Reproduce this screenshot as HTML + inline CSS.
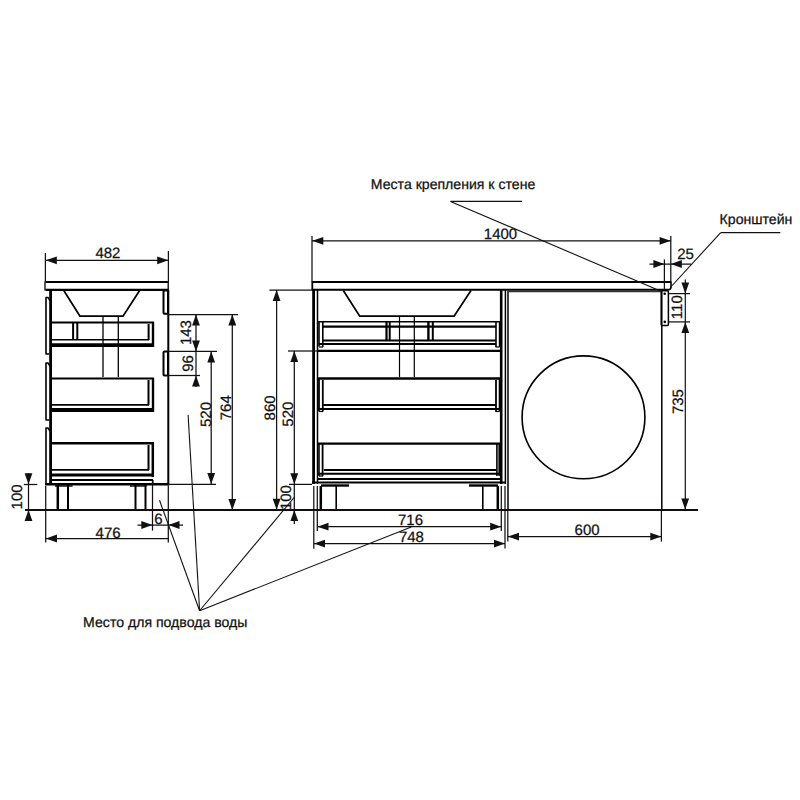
<!DOCTYPE html>
<html><head><meta charset="utf-8"><style>
html,body{margin:0;padding:0;background:#fff;width:800px;height:800px;overflow:hidden}
svg{display:block}
text{font-family:"Liberation Sans",sans-serif;fill:#111;stroke:#111;stroke-width:0.25px;text-rendering:geometricPrecision}
</style></head><body>
<svg width="800" height="800" viewBox="0 0 800 800">
<line x1="45.5" y1="282" x2="168.5" y2="282" stroke="#000" stroke-width="1.8"/>
<line x1="45.5" y1="289.8" x2="168.5" y2="289.8" stroke="#000" stroke-width="2.2"/>
<line x1="45" y1="281.5" x2="45" y2="290.5" stroke="#000" stroke-width="1.3"/>
<line x1="168.2" y1="281.5" x2="168.2" y2="290.5" stroke="#000" stroke-width="1.3"/>
<line x1="50.6" y1="290" x2="50.6" y2="485" stroke="#000" stroke-width="2.8"/>
<line x1="168.3" y1="290" x2="168.3" y2="485.5" stroke="#000" stroke-width="2"/>
<path d="M50,300.5 L48,297.5 L46,297.5 L46,354 L49.5,354" fill="none" stroke="#000" stroke-width="1.6" stroke-linejoin="round"/>
<path d="M50,366 L48,363 L46,363 L46,420 L49.5,420" fill="none" stroke="#000" stroke-width="1.6" stroke-linejoin="round"/>
<path d="M50,431 L48,428 L46,428 L46,484 L49.5,484" fill="none" stroke="#000" stroke-width="1.6" stroke-linejoin="round"/>
<rect x="163.5" y="290.5" width="4.5" height="23.2" rx="1" fill="none" stroke="#000" stroke-width="2"/>
<rect x="163.5" y="351.5" width="4.5" height="24" rx="1" fill="none" stroke="#000" stroke-width="2"/>
<path d="M63.8,290.5 L80,316.2 L123,316.2 L139.6,290.5" fill="none" stroke="#000" stroke-width="1.7" stroke-linejoin="round"/>
<line x1="103" y1="316" x2="103" y2="377" stroke="#000" stroke-width="1.3"/>
<line x1="118.3" y1="316" x2="118.3" y2="377" stroke="#000" stroke-width="1.3"/>
<line x1="51" y1="322.5" x2="154" y2="322.5" stroke="#000" stroke-width="2.2"/>
<line x1="153" y1="322" x2="153" y2="347" stroke="#000" stroke-width="2.4"/>
<line x1="148.6" y1="324" x2="148.6" y2="340" stroke="#000" stroke-width="2"/>
<line x1="52" y1="339.8" x2="149" y2="339.8" stroke="#000" stroke-width="1.6"/>
<line x1="51" y1="345.2" x2="154" y2="345.2" stroke="#000" stroke-width="3.8"/>
<line x1="73.1" y1="323" x2="73.1" y2="340" stroke="#000" stroke-width="2"/>
<line x1="77.3" y1="323" x2="77.3" y2="340" stroke="#000" stroke-width="2"/>
<line x1="51" y1="378.5" x2="154" y2="378.5" stroke="#000" stroke-width="2.2"/>
<line x1="153" y1="378" x2="153" y2="412" stroke="#000" stroke-width="2.4"/>
<line x1="148.5" y1="380" x2="148.5" y2="405" stroke="#000" stroke-width="2"/>
<line x1="52" y1="404.8" x2="149" y2="404.8" stroke="#000" stroke-width="1.7"/>
<line x1="51" y1="410" x2="154" y2="410" stroke="#000" stroke-width="3.8"/>
<line x1="51" y1="443.2" x2="154" y2="443.2" stroke="#000" stroke-width="2.4"/>
<line x1="152.8" y1="443" x2="152.8" y2="477" stroke="#000" stroke-width="2.5"/>
<line x1="148.5" y1="445" x2="148.5" y2="470" stroke="#000" stroke-width="2"/>
<line x1="52" y1="469.9" x2="149" y2="469.9" stroke="#000" stroke-width="1.8"/>
<line x1="51" y1="475" x2="154" y2="475" stroke="#000" stroke-width="3.2"/>
<line x1="52" y1="480" x2="153" y2="480" stroke="#000" stroke-width="1.8"/>
<line x1="153" y1="480" x2="153" y2="484" stroke="#000" stroke-width="1.2"/>
<line x1="45" y1="484.3" x2="169" y2="484.3" stroke="#000" stroke-width="2.6"/>
<line x1="57.8" y1="485" x2="57.8" y2="509.5" stroke="#000" stroke-width="2.5"/>
<line x1="68" y1="485" x2="68" y2="509.5" stroke="#000" stroke-width="2"/>
<line x1="135.5" y1="485" x2="135.5" y2="509.5" stroke="#000" stroke-width="2"/>
<line x1="145.5" y1="485" x2="145.5" y2="509.5" stroke="#000" stroke-width="2"/>
<line x1="130" y1="486" x2="146.5" y2="486" stroke="#000" stroke-width="1.4"/>
<line x1="55" y1="486" x2="72.5" y2="486" stroke="#000" stroke-width="1.4"/>
<line x1="312" y1="282" x2="671" y2="282" stroke="#000" stroke-width="2"/>
<line x1="312" y1="289.7" x2="668" y2="289.7" stroke="#000" stroke-width="1.9"/>
<path d="M671,281.5 L671,287 Q671,289.7 668,289.7" fill="none" stroke="#000" stroke-width="1.6" stroke-linejoin="round"/>
<line x1="312.3" y1="281.5" x2="312.3" y2="290" stroke="#000" stroke-width="1.8"/>
<line x1="313.6" y1="290" x2="313.6" y2="484" stroke="#000" stroke-width="2.8"/>
<line x1="317.5" y1="290" x2="317.5" y2="484" stroke="#000" stroke-width="1.5"/>
<line x1="501.2" y1="290" x2="501.2" y2="484" stroke="#000" stroke-width="2.6"/>
<line x1="505.4" y1="290" x2="505.4" y2="484" stroke="#000" stroke-width="1.5"/>
<path d="M343.3,290.5 L359.8,316.2 L454,316.2 L471,290.5" fill="none" stroke="#000" stroke-width="1.7" stroke-linejoin="round"/>
<line x1="399.5" y1="316" x2="399.5" y2="377" stroke="#000" stroke-width="1.2"/>
<line x1="414.3" y1="316" x2="414.3" y2="377" stroke="#000" stroke-width="1.2"/>
<line x1="318" y1="321.8" x2="501" y2="321.8" stroke="#000" stroke-width="1.6"/>
<line x1="322.8" y1="326.6" x2="496" y2="326.6" stroke="#000" stroke-width="2.2"/>
<line x1="322.8" y1="340.6" x2="496" y2="340.6" stroke="#000" stroke-width="2"/>
<line x1="319" y1="344" x2="496" y2="344" stroke="#000" stroke-width="1.8"/>
<line x1="319" y1="322" x2="319" y2="346.5" stroke="#000" stroke-width="1.6"/>
<line x1="322.8" y1="322" x2="322.8" y2="347" stroke="#000" stroke-width="1.6"/>
<line x1="496" y1="322" x2="496" y2="347" stroke="#000" stroke-width="1.6"/>
<line x1="499.4" y1="322" x2="499.4" y2="347" stroke="#000" stroke-width="1.2"/>
<line x1="319" y1="347" x2="323" y2="347" stroke="#000" stroke-width="1.2"/>
<line x1="495.5" y1="347" x2="499.5" y2="347" stroke="#000" stroke-width="1.2"/>
<line x1="386.5" y1="322" x2="386.5" y2="341" stroke="#000" stroke-width="2.2"/>
<line x1="389.7" y1="322" x2="389.7" y2="341" stroke="#000" stroke-width="2"/>
<line x1="428.4" y1="322" x2="428.4" y2="341" stroke="#000" stroke-width="2.4"/>
<line x1="432.8" y1="322" x2="432.8" y2="341" stroke="#000" stroke-width="2"/>
<line x1="318" y1="350.9" x2="501" y2="350.9" stroke="#000" stroke-width="2.2"/>
<line x1="318" y1="378.5" x2="501" y2="378.5" stroke="#000" stroke-width="2.5"/>
<line x1="319" y1="378" x2="319" y2="411.5" stroke="#000" stroke-width="1.8"/>
<line x1="322.8" y1="380" x2="322.8" y2="411.5" stroke="#000" stroke-width="1.8"/>
<line x1="319" y1="411.5" x2="323" y2="411.5" stroke="#000" stroke-width="1.2"/>
<line x1="499.5" y1="378" x2="499.5" y2="411.5" stroke="#000" stroke-width="1.6"/>
<line x1="496" y1="380" x2="496" y2="411.5" stroke="#000" stroke-width="1.8"/>
<line x1="495.5" y1="411.5" x2="499.5" y2="411.5" stroke="#000" stroke-width="1.2"/>
<line x1="323" y1="405.1" x2="496" y2="405.1" stroke="#000" stroke-width="2"/>
<line x1="318" y1="409" x2="501" y2="409" stroke="#000" stroke-width="2.2"/>
<line x1="318" y1="443.6" x2="501" y2="443.6" stroke="#000" stroke-width="2.4"/>
<line x1="319" y1="444" x2="319" y2="476" stroke="#000" stroke-width="1.6"/>
<line x1="322.6" y1="444" x2="322.6" y2="476" stroke="#000" stroke-width="1.8"/>
<line x1="319" y1="476" x2="323" y2="476" stroke="#000" stroke-width="1.2"/>
<line x1="499.2" y1="443" x2="499.2" y2="476" stroke="#000" stroke-width="1.6"/>
<line x1="496.9" y1="444" x2="496.9" y2="476" stroke="#000" stroke-width="1.6"/>
<line x1="324" y1="470" x2="496" y2="470" stroke="#000" stroke-width="2"/>
<line x1="318" y1="473.8" x2="501" y2="473.8" stroke="#000" stroke-width="2"/>
<line x1="318" y1="479" x2="501" y2="479" stroke="#000" stroke-width="2.2"/>
<line x1="312" y1="482.6" x2="506" y2="482.6" stroke="#000" stroke-width="2"/>
<line x1="321" y1="485.5" x2="349" y2="485.5" stroke="#000" stroke-width="2.4"/>
<line x1="469" y1="485.5" x2="498" y2="485.5" stroke="#000" stroke-width="2.4"/>
<line x1="320.8" y1="486" x2="320.8" y2="509.5" stroke="#000" stroke-width="2.5"/>
<line x1="336.2" y1="486" x2="336.2" y2="509.5" stroke="#000" stroke-width="1.6"/>
<line x1="482.8" y1="486" x2="482.8" y2="509.5" stroke="#000" stroke-width="1.6"/>
<line x1="497.8" y1="486" x2="497.8" y2="509.5" stroke="#000" stroke-width="2.5"/>
<line x1="508" y1="291" x2="508" y2="510" stroke="#000" stroke-width="1.5"/>
<line x1="508" y1="291.2" x2="661.5" y2="291.2" stroke="#333" stroke-width="2"/>
<line x1="661.8" y1="291" x2="661.8" y2="510" stroke="#000" stroke-width="1.5"/>
<circle cx="583.5" cy="417.3" r="61.4" fill="none" stroke="#000" stroke-width="1.6"/>
<rect x="661.2" y="290.8" width="7.2" height="34.6" rx="1" fill="none" stroke="#000" stroke-width="1.5"/>
<circle cx="664.7" cy="293.8" r="1.3" fill="#000"/>
<circle cx="664.8" cy="321.9" r="1.3" fill="#000"/>
<line x1="25" y1="510" x2="698" y2="510" stroke="#140c0c" stroke-width="2"/>
<line x1="45.4" y1="253" x2="45.4" y2="282" stroke="#111" stroke-width="1.25"/>
<line x1="168.4" y1="251" x2="168.4" y2="282" stroke="#111" stroke-width="1.25"/>
<line x1="46" y1="260.3" x2="168" y2="260.3" stroke="#111" stroke-width="1.25"/>
<polygon points="45.8,260.3 56.8,256.40000000000003 56.8,264.2" fill="#111"/>
<polygon points="168.2,260.3 157.2,256.40000000000003 157.2,264.2" fill="#111"/>
<text x="107.9" y="258.4" font-size="15" text-anchor="middle">482</text>
<line x1="168" y1="314.5" x2="238" y2="314.5" stroke="#111" stroke-width="1.25"/>
<line x1="168" y1="351.4" x2="217" y2="351.4" stroke="#111" stroke-width="1.25"/>
<line x1="168" y1="375.5" x2="200" y2="375.5" stroke="#111" stroke-width="1.25"/>
<line x1="196" y1="314.5" x2="196" y2="387" stroke="#111" stroke-width="1.25"/>
<polygon points="196,314.5 192.1,325.5 199.9,325.5" fill="#111"/>
<polygon points="196,351.4 192.1,340.4 199.9,340.4" fill="#111"/>
<polygon points="196,375.5 192.1,386.5 199.9,386.5" fill="#111"/>
<text x="0" y="0" font-size="15" text-anchor="middle" transform="translate(190.9,332.6) rotate(-90)">143</text>
<text x="0" y="0" font-size="15" text-anchor="middle" transform="translate(193.1,363.4) rotate(-90)">96</text>
<line x1="211.2" y1="351.4" x2="211.2" y2="484" stroke="#111" stroke-width="1.25"/>
<polygon points="211.2,351.4 207.29999999999998,362.4 215.1,362.4" fill="#111"/>
<polygon points="211.2,484 207.29999999999998,473 215.1,473" fill="#111"/>
<line x1="168" y1="484.3" x2="216" y2="484.3" stroke="#111" stroke-width="1.25"/>
<text x="0" y="0" font-size="15" text-anchor="middle" transform="translate(210.9,414.5) rotate(-90)">520</text>
<line x1="232.3" y1="314.5" x2="232.3" y2="510" stroke="#111" stroke-width="1.25"/>
<polygon points="232.3,314.5 228.4,325.5 236.20000000000002,325.5" fill="#111"/>
<polygon points="232.3,510 228.4,499 236.20000000000002,499" fill="#111"/>
<text x="0" y="0" font-size="15" text-anchor="middle" transform="translate(230.8,407.75) rotate(-90)">764</text>
<line x1="23.8" y1="484.5" x2="37.3" y2="484.5" stroke="#111" stroke-width="1.25"/>
<line x1="28.5" y1="473" x2="28.5" y2="521" stroke="#111" stroke-width="1.25"/>
<polygon points="28.5,484.3 24.6,473.3 32.4,473.3" fill="#111"/>
<polygon points="28.5,510 24.6,521 32.4,521" fill="#111"/>
<text x="0" y="0" font-size="15" text-anchor="middle" transform="translate(22.25,496.9) rotate(-90)">100</text>
<line x1="45.7" y1="486" x2="45.7" y2="542.5" stroke="#111" stroke-width="1.25"/>
<line x1="45.7" y1="538.5" x2="168.3" y2="538.5" stroke="#111" stroke-width="1.25"/>
<polygon points="46,538.5 57,534.6 57,542.4" fill="#111"/>
<line x1="168.3" y1="486" x2="168.3" y2="542.5" stroke="#111" stroke-width="1.25"/>
<text x="108.1" y="537.9" font-size="15" text-anchor="middle">476</text>
<line x1="152.5" y1="481" x2="152.5" y2="530.6" stroke="#111" stroke-width="1.25"/>
<line x1="137.5" y1="525" x2="183" y2="525" stroke="#111" stroke-width="1.25"/>
<polygon points="152.3,525 141.3,521.1 141.3,528.9" fill="#111"/>
<polygon points="168.5,525 179.5,521.1 179.5,528.9" fill="#111"/>
<text x="158.3" y="524.3" font-size="15" text-anchor="middle">6</text>
<line x1="312" y1="236" x2="312" y2="282" stroke="#111" stroke-width="1.25"/>
<line x1="670.8" y1="236" x2="670.8" y2="282" stroke="#111" stroke-width="1.25"/>
<line x1="312" y1="240.8" x2="670.8" y2="240.8" stroke="#111" stroke-width="1.25"/>
<polygon points="312.3,240.8 323.3,236.9 323.3,244.70000000000002" fill="#111"/>
<polygon points="670.6,240.8 659.6,236.9 659.6,244.70000000000002" fill="#111"/>
<text x="500.5" y="238.8" font-size="15" text-anchor="middle">1400</text>
<line x1="269.4" y1="290" x2="312" y2="290" stroke="#111" stroke-width="1.25"/>
<line x1="276.6" y1="290" x2="276.6" y2="510" stroke="#111" stroke-width="1.25"/>
<polygon points="276.6,290 272.70000000000005,301 280.5,301" fill="#111"/>
<polygon points="276.6,509.7 272.70000000000005,498.7 280.5,498.7" fill="#111"/>
<text x="0" y="0" font-size="15" text-anchor="middle" transform="translate(275.3,407.9) rotate(-90)">860</text>
<line x1="288" y1="351" x2="318" y2="351" stroke="#111" stroke-width="1.25"/>
<line x1="289" y1="484.4" x2="312" y2="484.4" stroke="#111" stroke-width="1.25"/>
<line x1="294.3" y1="351" x2="294.3" y2="524" stroke="#111" stroke-width="1.25"/>
<polygon points="294.3,351 290.40000000000003,362 298.2,362" fill="#111"/>
<polygon points="294.3,484.2 290.40000000000003,473.2 298.2,473.2" fill="#111"/>
<polygon points="294.3,510 290.40000000000003,521 298.2,521" fill="#111"/>
<text x="0" y="0" font-size="15" text-anchor="middle" transform="translate(292.6,414.2) rotate(-90)">520</text>
<text x="0" y="0" font-size="15" text-anchor="middle" transform="translate(291.25,497.6) rotate(-90)">100</text>
<line x1="317.3" y1="486" x2="317.3" y2="531" stroke="#111" stroke-width="1.25"/>
<line x1="501.3" y1="486" x2="501.3" y2="531" stroke="#111" stroke-width="1.25"/>
<line x1="317.3" y1="526.7" x2="501.3" y2="526.7" stroke="#111" stroke-width="1.25"/>
<polygon points="317.5,526.7 328.5,522.8000000000001 328.5,530.6" fill="#111"/>
<polygon points="501.2,526.7 490.2,522.8000000000001 490.2,530.6" fill="#111"/>
<text x="410.5" y="524.6" font-size="15" text-anchor="middle">716</text>
<line x1="313.8" y1="486" x2="313.8" y2="548.8" stroke="#111" stroke-width="1.25"/>
<line x1="505" y1="486" x2="505" y2="548.5" stroke="#111" stroke-width="1.25"/>
<line x1="313.8" y1="543.6" x2="505" y2="543.6" stroke="#111" stroke-width="1.25"/>
<polygon points="314,543.6 325,539.7 325,547.5" fill="#111"/>
<polygon points="505,543.6 494,539.7 494,547.5" fill="#111"/>
<text x="411.4" y="541.6" font-size="15" text-anchor="middle">748</text>
<line x1="507.8" y1="510" x2="507.8" y2="541.6" stroke="#111" stroke-width="1.25"/>
<line x1="661.4" y1="510" x2="661.4" y2="541.6" stroke="#111" stroke-width="1.25"/>
<line x1="507.8" y1="536.6" x2="661.4" y2="536.6" stroke="#111" stroke-width="1.25"/>
<polygon points="508,536.6 519,532.7 519,540.5" fill="#111"/>
<polygon points="661.3,536.6 650.3,532.7 650.3,540.5" fill="#111"/>
<text x="587.1" y="535" font-size="15" text-anchor="middle">600</text>
<line x1="664.4" y1="259.4" x2="664.4" y2="290" stroke="#111" stroke-width="1.25"/>
<line x1="649.4" y1="264" x2="691.3" y2="264" stroke="#111" stroke-width="1.25"/>
<polygon points="664.4,264 653.4,260.1 653.4,267.9" fill="#111"/>
<polygon points="670.8,264 681.8,260.1 681.8,267.9" fill="#111"/>
<text x="685.6" y="258.6" font-size="15" text-anchor="middle">25</text>
<line x1="668" y1="293.6" x2="690" y2="293.6" stroke="#111" stroke-width="1.25"/>
<line x1="668" y1="321.9" x2="690" y2="321.9" stroke="#111" stroke-width="1.25"/>
<line x1="685.3" y1="279.4" x2="685.3" y2="509.6" stroke="#111" stroke-width="1.2"/>
<polygon points="685.3,293.6 681.4,282.6 689.1999999999999,282.6" fill="#111"/>
<polygon points="685.3,321.9 681.4,332.9 689.1999999999999,332.9" fill="#111"/>
<polygon points="685.2,509.6 681.3000000000001,498.6 689.1,498.6" fill="#111"/>
<text x="0" y="0" font-size="15" text-anchor="middle" transform="translate(681.75,307.2) rotate(-90)">110</text>
<text x="0" y="0" font-size="15" text-anchor="middle" transform="translate(682.8,401.6) rotate(-90)">735</text>
<text x="370.8" y="189" font-size="14.1" text-anchor="start">Места крепления к стене</text>
<line x1="450.5" y1="201.4" x2="522" y2="201.4" stroke="#111" stroke-width="1.1"/>
<line x1="450.5" y1="201.4" x2="661" y2="291.3" stroke="#111" stroke-width="1.1"/>
<text x="719.6" y="224.1" font-size="14.1" text-anchor="start">Кронштейн</text>
<line x1="720.7" y1="232.6" x2="780.3" y2="232.6" stroke="#111" stroke-width="1.1"/>
<line x1="720.7" y1="232.6" x2="670.8" y2="287" stroke="#111" stroke-width="1.1"/>
<text x="83.1" y="626.6" font-size="14.1" text-anchor="start">Место для подвода воды</text>
<line x1="199.6" y1="610.75" x2="159.5" y2="500.25" stroke="#111" stroke-width="1.1"/>
<line x1="199.6" y1="610.75" x2="188.1" y2="415" stroke="#111" stroke-width="1.1"/>
<line x1="199.6" y1="610.75" x2="294.5" y2="497" stroke="#111" stroke-width="1.1"/>
<line x1="199.6" y1="610.75" x2="411.25" y2="527" stroke="#111" stroke-width="1.1"/>
</svg>
</body></html>
